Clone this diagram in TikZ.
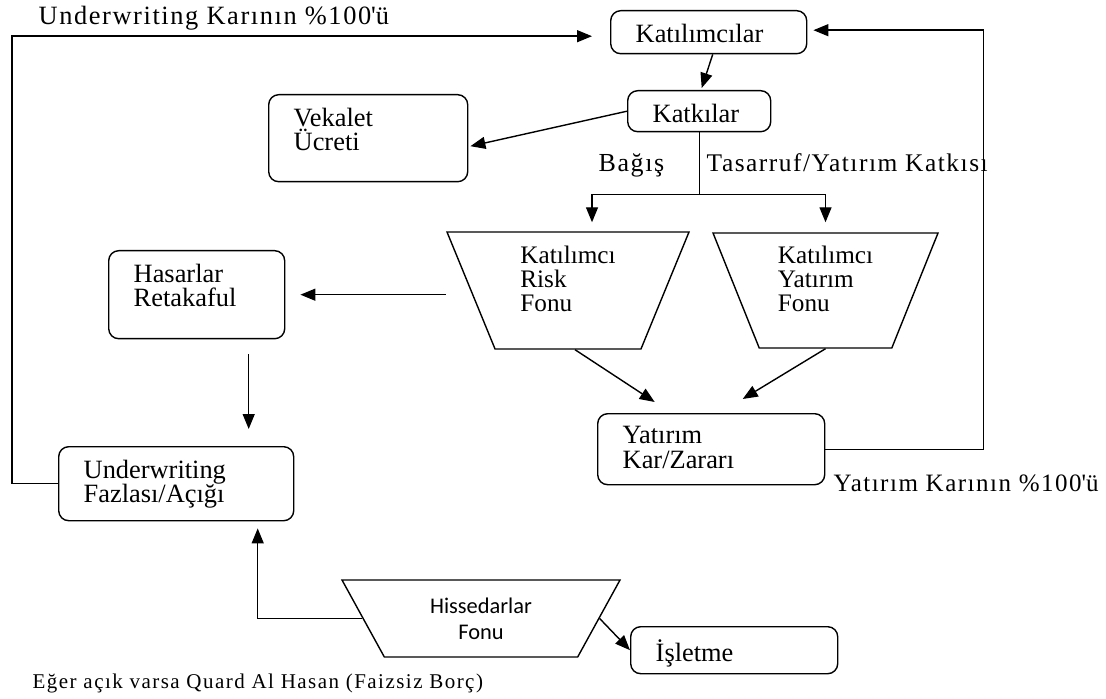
\documentclass[tikz,border=0pt]{standalone}
\usepackage{fontspec}
\setmainfont{Liberation Serif}
\newfontfamily\hissefont{Carlito}
\newfontfamily\labelfont[LetterSpace=6]{Liberation Serif}
\newfontfamily\notefont[LetterSpace=7]{Liberation Serif}
\usetikzlibrary{shapes.geometric,positioning,arrows.meta}
\newcommand{\boxtxt}[3]{\parbox[c][\dimexpr#2pt/2-13pt\relax][t]{\dimexpr#1pt/2-25pt\relax}{#3}}

\begin{document}
\begin{tikzpicture}[x=0.5pt,y=-0.5pt,>={Triangle[length=7.5pt,width=6pt]},line width=0.7pt,
box/.style = {draw, rounded corners=5pt, anchor=north west, inner xsep=12.5pt, inner ysep=6.5pt, font=\fontsize{13.2}{12.3}\selectfont},
fund/.style = {draw, trapezium, trapezium stretches body, align=left, inner sep=1pt, font=\fontsize{12.6}{11.8}\selectfont},
lbl/.style = {inner sep=0pt, anchor=base west, font=\labelfont\fontsize{13}{13}\selectfont},
arr/.style = {->},]
\useasboundingbox (0,0) rectangle (1106,699);
% boxes
\node[box] (kat) at (610,10) {\boxtxt{196}{43}{Katılımcılar}};
\node[box] (katki) at (627,90) {\boxtxt{143}{41}{Katkılar}};
\node[box] (vek) at (268,94) {\boxtxt{199}{87}{Vekalet\\Ücreti}};
\node[box] (has) at (108,250) {\boxtxt{176}{88}{Hasarlar\\Retakaful}};
\node[box] (uw) at (58,446) {\boxtxt{235}{74}{Underwriting\\Fazlası/Açığı}};
\node[box] (ykz) at (597,413) {\boxtxt{227}{71}{Yatırım\\Kar/Zararı}};
\node[box] (isl) at (630,626) {\boxtxt{207}{47}{İşletme}};
% funds
\node[fund, trapezium left angle=117.5, trapezium right angle=117.5, minimum width=121pt, minimum height=58.5pt] (risk) at (568,290.5) {Katılımcı\\Risk\\Fonu\\\mbox{}};
\node[fund, trapezium left angle=116.6, trapezium right angle=116.6, minimum width=112.5pt, minimum height=57.5pt] (yfon) at (825.5,290.5) {Katılımcı\\Yatırım\\Fonu\\\mbox{}};
\node[fund, trapezium left angle=132.8, trapezium right angle=132.8, minimum width=139pt, minimum height=38.5pt, align=center, font=\hissefont\fontsize{11.2}{13}\selectfont] (hisse) at (481,618.5) {Hissedarlar\\Fonu};
% texts
\node[lbl, font=\labelfont\fontsize{13.2}{13}\selectfont] (uwlbl) at (38,25) {Underwriting Karının \%100\textquotesingle ü};
\node[lbl] (bagis) at (598,172) {Bağış};
\node[lbl, font=\labelfont\fontsize{12.7}{13}\selectfont] (tasarruf) at (706,172) {Tasarruf/Yatırım Katkısı};
\node[lbl, font=\labelfont\fontsize{12.5}{13}\selectfont] (ykzlbl) at (833,491) {Yatırım Karının \%100\textquotesingle ü};
\node[lbl, font=\notefont\fontsize{10.5}{10}\selectfont] (quard) at (32,688) {Eğer açık varsa Quard Al Hasan (Faizsiz Borç)};
% arrows
\draw[arr] (uw.west) -- ++(-46,0) |- ([xshift=-9pt,yshift=-2pt]kat.west);
\draw[arr] (ykz.east) -- ++(158,0) |- ([xshift=3pt,yshift=1pt]kat.east);
\draw[arr] ([xshift=2pt]kat.south) -- ([xshift=1.25pt,yshift=1pt]katki.north);
\draw[arr] (katki.west) -- ([xshift=1pt,yshift=-4pt]vek.east);
\draw (katki.south) -- ++(0,62) coordinate (split);
\draw[arr] (split) -| ([xshift=12pt,yshift=4.5pt]risk.north);
\draw[arr] (split) -| ([yshift=5pt]yfon.north);
\draw[arr] (risk.top left corner |- has.east) -- ([xshift=7.5pt]has.east);
\draw[arr] ([xshift=26pt,yshift=-7.5pt]has.south) -- ([xshift=36.25pt,yshift=8.5pt]uw.north);
\draw[arr] ([xshift=3.5pt]risk.south) -- ([xshift=-28.25pt,yshift=5.5pt]ykz.north);
\draw[arr] (yfon.south) -- ([xshift=15.75pt,yshift=7pt]ykz.north);
\draw[arr] (hisse.west) -| ([xshift=40.75pt,yshift=-3.5pt]uw.south);
\draw[arr] (hisse.east) -- (isl.west);
\end{tikzpicture}
\end{document}
